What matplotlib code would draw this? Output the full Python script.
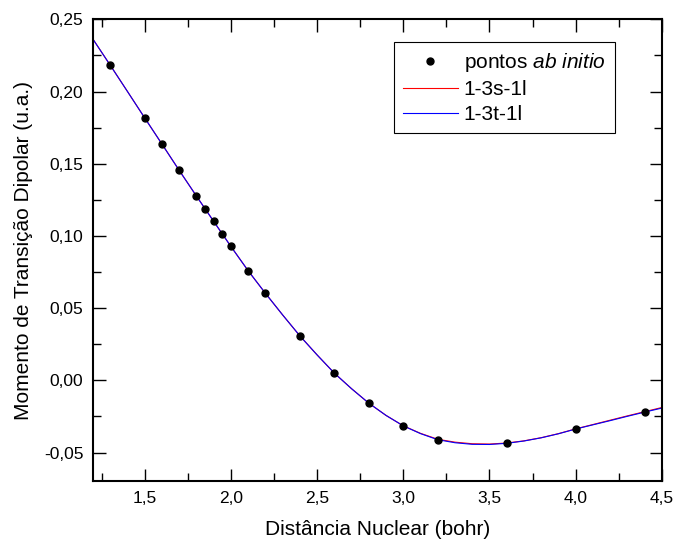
import matplotlib
matplotlib.use('Agg')
import matplotlib.pyplot as plt
from matplotlib.ticker import MultipleLocator, FuncFormatter

plt.rcParams['font.family'] = ['Liberation Sans', 'DejaVu Sans']
plt.rcParams['mathtext.fontset'] = 'custom'
plt.rcParams['mathtext.rm'] = 'Liberation Sans'
plt.rcParams['mathtext.it'] = 'Liberation Sans:italic'

# ab initio points
r_pts = [1.3, 1.5, 1.6, 1.7, 1.8, 1.85, 1.9, 1.95, 2.0, 2.1, 2.2, 2.4, 2.6,
         2.8, 3.0, 3.2, 3.6, 4.0, 4.4]
mu_pts = [0.2182, 0.1817, 0.1636, 0.1454, 0.1276, 0.1186, 0.1101, 0.1013,
          0.0927, 0.0759, 0.0603, 0.0308, 0.0050, -0.0158, -0.0315, -0.0411,
          -0.0434, -0.0337, -0.0220]

# fitted curves
r_fit = [1.2, 1.3, 1.4, 1.5, 1.6, 1.7, 1.8, 1.9, 2.0, 2.1, 2.2, 2.3, 2.4, 2.5,
         2.6, 2.7, 2.8, 2.9, 3.0, 3.1, 3.2, 3.3, 3.4, 3.5, 3.6, 3.7, 3.8, 3.9,
         4.0, 4.1, 4.2, 4.3, 4.4, 4.5]
mu_s = [0.2362, 0.2182, 0.2000, 0.1817, 0.1636, 0.1454, 0.1276, 0.1101,
        0.0927, 0.0759, 0.0603, 0.0453, 0.0308, 0.0176, 0.0050, -0.0058,
        -0.0158, -0.0243, -0.0315, -0.0367, -0.0408, -0.0428, -0.0439,
        -0.0441, -0.0434, -0.0419, -0.0397, -0.0369, -0.0336, -0.0306,
        -0.0276, -0.0246, -0.0217, -0.0188]
mu_t = [0.2362, 0.2182, 0.2000, 0.1817, 0.1636, 0.1454, 0.1276, 0.1101,
        0.0927, 0.0759, 0.0603, 0.0453, 0.0308, 0.0176, 0.0050, -0.0058,
        -0.0158, -0.0243, -0.0315, -0.0369, -0.0411, -0.0432, -0.0443,
        -0.0444, -0.0436, -0.0420, -0.0398, -0.0370, -0.0337, -0.0308,
        -0.0279, -0.0249, -0.0220, -0.0192]

fig = plt.figure(figsize=(6.74, 5.44), dpi=100)
ax = fig.add_axes([0.138, 0.115, 0.844, 0.8495])

ax.plot(r_pts, mu_pts, 'o', color='black', markersize=5,
        label='pontos $\\it{ab\\ initio}$', zorder=3)
ax.plot(r_fit, mu_s, '-', color='red', lw=0.8, label='1-3s-1l')
ax.plot(r_fit, mu_t, '-', color='blue', lw=0.8, label='1-3t-1l')

ax.set_xlim(1.2, 4.5)
ax.set_ylim(-0.07, 0.25)
ax.xaxis.set_major_locator(MultipleLocator(0.5))
ax.xaxis.set_minor_locator(MultipleLocator(0.25))
ax.yaxis.set_major_locator(MultipleLocator(0.05))
ax.yaxis.set_minor_locator(MultipleLocator(0.025))
ax.xaxis.set_major_formatter(FuncFormatter(lambda v, p: ('%.1f' % v).replace('.', ',')))
ax.yaxis.set_major_formatter(FuncFormatter(lambda v, p: ('%.2f' % v).replace('.', ',')))

ax.tick_params(which='both', direction='in', top=True, right=True,
               labelsize=12.5, width=1.0, pad=7)
ax.tick_params(which='major', length=9)
ax.tick_params(which='minor', length=5.5)
for s in ax.spines.values():
    s.set_linewidth(1.5)

ax.set_xlabel('Distância Nuclear (bohr)', fontsize=15, labelpad=10)
ax.set_ylabel('Momento de Transição Dipolar (u.a.)', fontsize=15, labelpad=8)

leg = ax.legend(loc='upper left', bbox_to_anchor=(394 / 674, 1 - 42 / 544),
                bbox_transform=fig.transFigure, fontsize=15, frameon=True,
                fancybox=False, edgecolor='black', framealpha=1,
                handlelength=2.6, handletextpad=0.3, borderpad=0.45,
                labelspacing=0.28, borderaxespad=0, numpoints=1)
leg.get_frame().set_linewidth(0.8)

fig.savefig('out.png', dpi=100)
